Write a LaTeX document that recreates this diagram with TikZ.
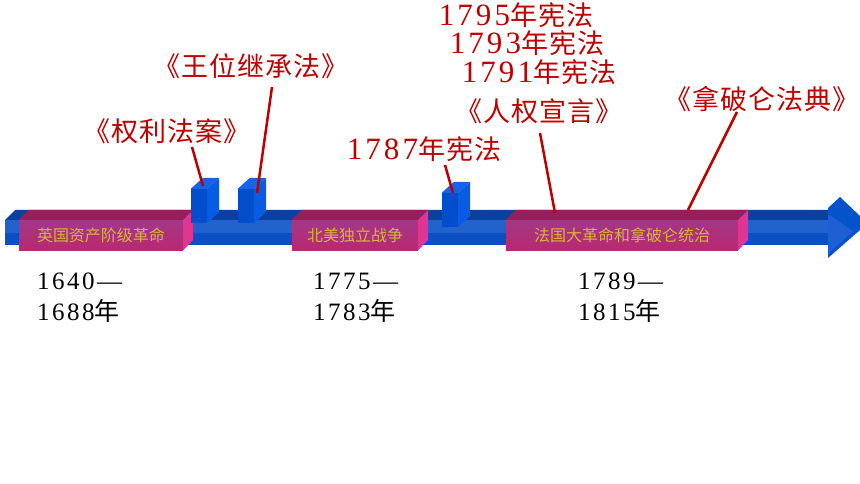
\documentclass[tikz,border=0pt]{standalone}
\usepackage{fontspec}
\usetikzlibrary{calc}
\newfontfamily\cjk{Noto Sans CJK SC}
\newfontfamily\cjkw[LetterSpace=4]{Noto Sans CJK SC}
\newfontfamily\dg[LetterSpace=10]{Liberation Serif}
\newcommand\yr[1]{{\dg\fontsize{31}{34}\selectfont#1}}
\definecolor{lawred}{RGB}{192,0,0}
\definecolor{evgold}{RGB}{214,182,62}
\definecolor{bartop}{RGB}{10,64,160}
\definecolor{barup}{RGB}{34,98,204}
\definecolor{barlow}{RGB}{12,78,196}
\definecolor{headback}{RGB}{4,82,204}
\definecolor{headfront}{RGB}{30,96,212}
\definecolor{ptop}{RGB}{150,30,90}
\definecolor{pupper}{RGB}{162,56,136}
\definecolor{plower}{RGB}{186,40,112}
\definecolor{pside}{RGB}{224,52,144}
\definecolor{cfront}{RGB}{0,78,204}
\definecolor{cside}{RGB}{8,92,228}
\definecolor{ctop}{RGB}{20,100,232}
\begin{document}
\begin{tikzpicture}[x=1pt,y=-1pt,
  law node/.style={inner sep=0pt,text height=22pt,text depth=2pt,text=lawred,
    font=\cjkw\fontsize{27}{30}\selectfont},
  event node/.style={inner sep=0pt,minimum height=30pt,top color=pupper,bottom color=plower,
    text=evgold,font=\cjk\fontsize{16}{18}\selectfont},
  cube node/.style={inner sep=0pt,minimum width=16pt,minimum height=34pt,fill=cfront},
  date node/.style={inner sep=0pt,anchor=base west,font=\dg\fontsize{25}{30}\selectfont},
  link/.style={draw=lawred,line width=2.5pt}]

  \fill[white] (0,0) rectangle (860,484);
  \useasboundingbox (0,0) rectangle (860,484);

  % time bar
  \fill[bartop] (5,220) -- (15,210) -- (828,210) -- (828,220) -- cycle;
  \fill[barlow] (5,220) rectangle (828,245);
  \fill[barup] (5,220) rectangle (828,233);
  \fill[headback] (828,208) -- (840,197) -- (860,216) -- (860,230) -- (828,258) -- cycle;
  \fill[headfront] (828,214) -- (853,231) -- (828,254) -- cycle;

  \node[event node,minimum width=164pt] (e1) at (101,235) {英国资产阶级革命};
  \node[event node,minimum width=126pt] (e2) at (355,235) {北美独立战争};
  \node[event node,minimum width=232pt] (e3) at (622,235) {法国大革命和拿破仑统治};
  \foreach \b in {e1,e2,e3}{
    \fill[ptop] (\b.north west) -- ++(10,-10) -- ($(\b.north east)+(10,-10)$) -- (\b.north east) -- cycle;
    \fill[pside] (\b.north east) -- ++(10,-10) -- ++(0,30) -- (\b.south east) -- cycle;
  }

  \node[cube node] (m1) at (199,206) {};
  \node[cube node] (m2) at (246,206) {};
  \node[cube node] (m3) at (450,210) {};
  \foreach \c in {m1,m2,m3}{
    \fill[ctop] (\c.north west) -- ++(12,-11) -- ($(\c.north east)+(12,-11)$) -- (\c.north east) -- cycle;
    \fill[cside] (\c.north east) -- ++(12,-11) -- ++(0,34) -- (\c.south east) -- cycle;
  }

  % laws
  \node[law node] (qlfa) at (167,132) {《权利法案》};
  \node[law node] (wwjc) at (251,67) {《王位继承法》};
  \node[law node] (x1795) at (516,16) {\yr{1795}年宪法};
  \node[law node] (x1793) at (527,44) {\yr{1793}年宪法};
  \node[law node] (x1791) at (539,73) {\yr{1791}年宪法};
  \node[law node] (rqxy) at (539,112) {《人权宣言》};
  \node[law node] (x1787) at (424,150) {\yr{1787}年宪法};
  \node[law node] (nplfd) at (762,100) {《拿破仑法典》};

  \draw[link] ($(qlfa)+(25,15)$) -- ($(m1)+(4,-20)$);
  \draw[link] ($(wwjc)+(21,20)$) -- ($(m2)+(11,-13)$);
  \draw[link] ($(x1787)+(21,15)$) -- ($(m3)+(3,-17)$);
  \draw[link] ($(rqxy)+(1,21)$) -- ($(e3)+(-67,-22)$);
  \draw[link] ($(nplfd)+(-25,12)$) -- ($(e3)+(66,-25)$);

  % dates
  \node[date node] (d1a) at (37,289) {1640—};
  \node[date node] (d1b) at (37,320) {1688{\cjk 年}};
  \node[date node] (d2a) at (313,289) {1775—};
  \node[date node] (d2b) at (313,320) {1783{\cjk 年}};
  \node[date node] (d3a) at (578,289) {1789—};
  \node[date node] (d3b) at (578,320) {1815{\cjk 年}};
\end{tikzpicture}
\end{document}
